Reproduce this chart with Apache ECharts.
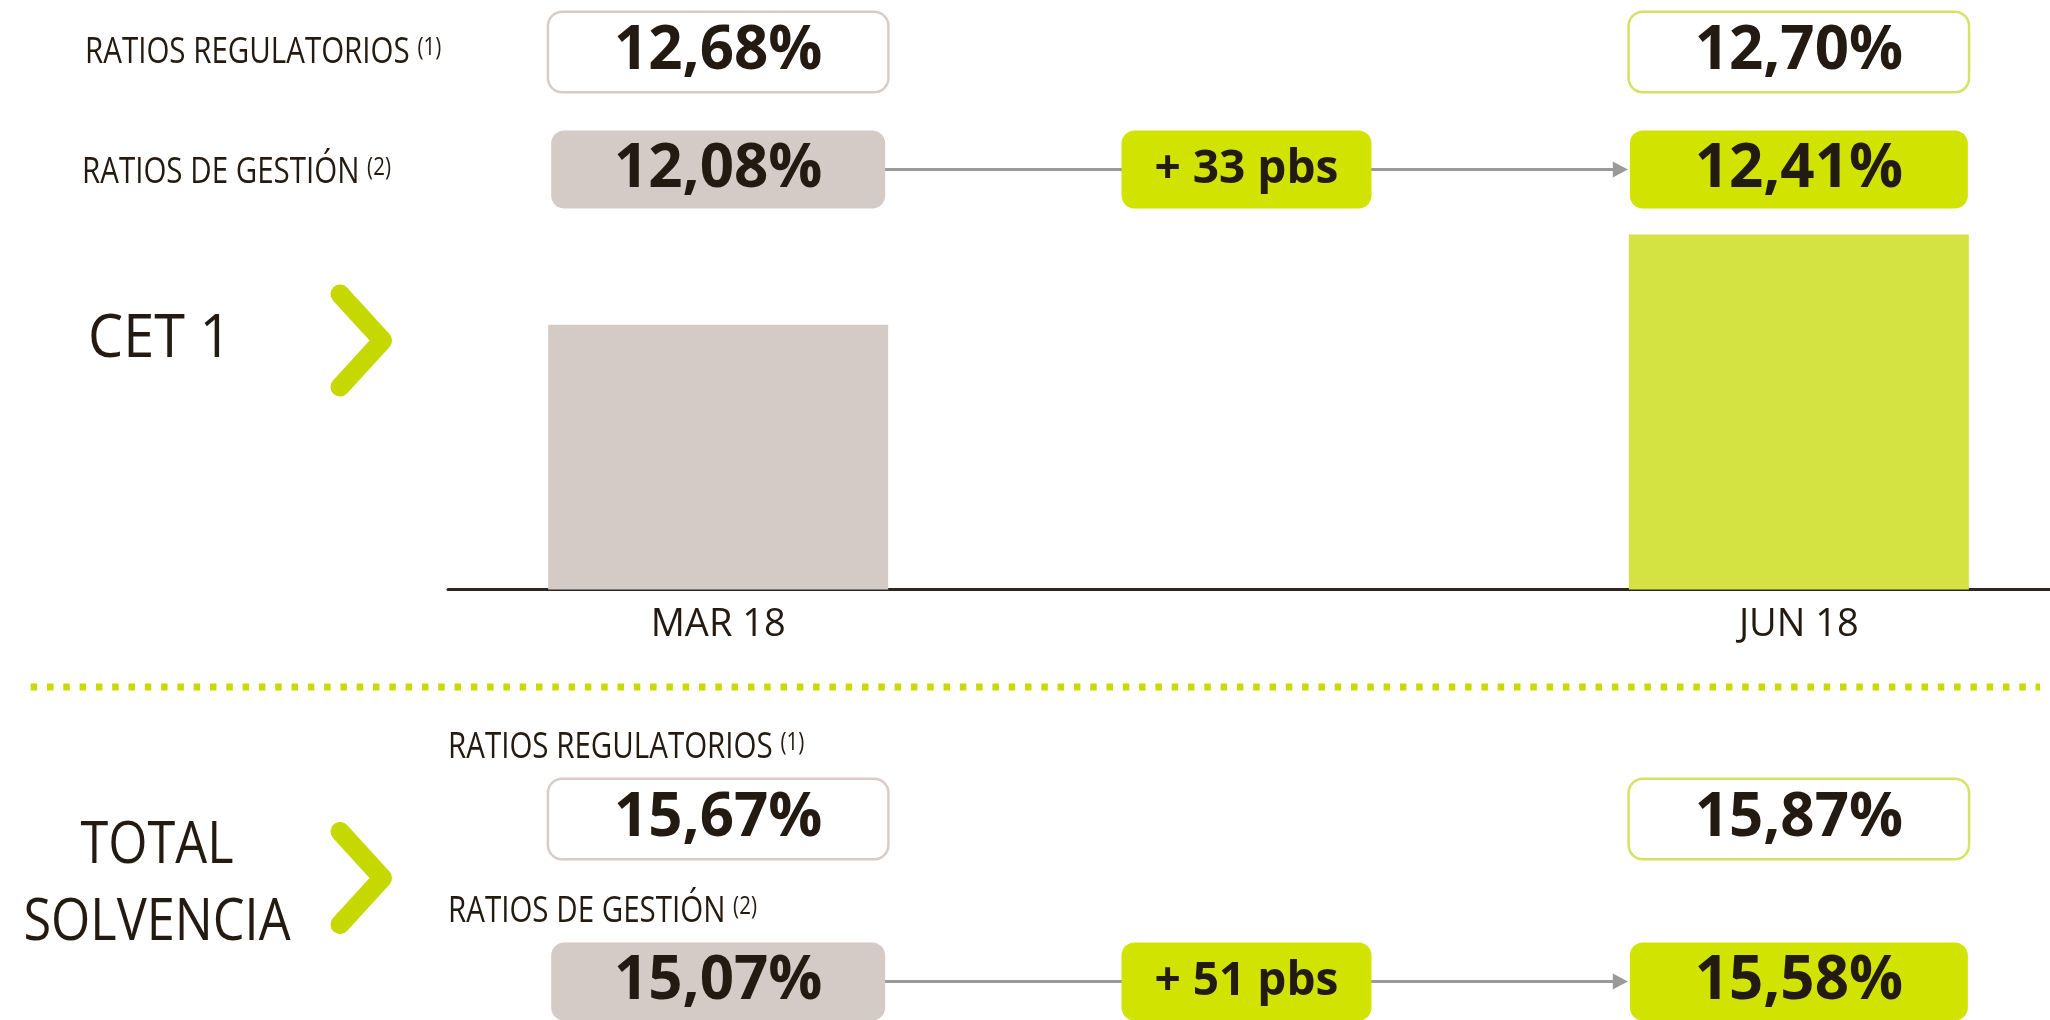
<!DOCTYPE html>
<html>
<head>
<meta charset="utf-8">
<script src="https://cdn.jsdelivr.net/npm/echarts@6/dist/echarts.min.js"></script>
<style>
  html, body { margin: 0; padding: 0; background: #ffffff; }
  #chart { width: 2050px; height: 1020px; }
</style>
</head>
<body>
<div id="chart"></div>
<script>
// Capital ratios by quarter (%)
const periods = ['MAR 18', 'JUN 18'];
const cet1Regulatory = [12.68, 12.70];
const cet1Management = [12.08, 12.41];
const solvencyRegulatory = [15.67, 15.87];
const solvencyManagement = [15.07, 15.58];

const rowLabels = ['RATIOS REGULATORIOS', 'RATIOS DE GESTIÓN'];
const rowNotes = ['(1)', '(2)'];
const sectionTitles = ['CET 1', 'TOTAL\nSOLVENCIA'];

// Category slots: first quarter, change box, second quarter
const slots = [periods[0], '', periods[1]];

const INK = '#231a11';
const LIME = '#d1e300';
const LIME_SOFT = '#d4e342';
const LIME_DARK = '#c5d800';
const TAUPE = '#d5cbc6';
const TAUPE_LINE = '#d7cdc8';
const ARROW = '#9a9a9a';
const FONT = "'Open Sans', 'Noto Sans', sans-serif";

const PLOT_LEFT = 448;
const PLOT_WIDTH = 1621;
const BOX_W = 338;
const BOX_H = 78;
const TEXT_DROP = 6;

const pct = v => v.toFixed(2).replace('.', ',') + '%';
const bps = (a, b) => '+ ' + Math.round((b - a) * 100) + ' pbs';

const chart = echarts.init(document.getElementById('chart'), null, { renderer: 'canvas' });

// grid 0: CET1 bars; grids 1-4: rows of value boxes
const rowGrids = [
  { top: 13, height: BOX_H },     // CET1 regulatory
  { top: 130.5, height: BOX_H },  // CET1 management
  { top: 780, height: BOX_H },    // solvency regulatory
  { top: 942.5, height: BOX_H }   // solvency management
];

const grids = [{ top: 180, height: 409.5 }].concat(rowGrids).map(g => ({
  left: PLOT_LEFT,
  width: PLOT_WIDTH,
  top: g.top,
  height: g.height,
  outerBoundsMode: 'none',
  containLabel: false
}));

const xAxes = grids.map((g, i) => ({
  type: 'category',
  gridIndex: i,
  data: slots,
  show: i === 0,
  boundaryGap: true,
  axisLine: { show: true, lineStyle: { color: '#2e2620', width: 3 } },
  axisTick: { show: false },
  axisLabel: {
    show: i === 0,
    color: INK,
    fontFamily: FONT,
    fontSize: 38,
    fontWeight: 400,
    margin: 17
  },
  splitLine: { show: false }
}));

const yAxes = grids.map((g, i) => i === 0
  ? { type: 'value', gridIndex: 0, min: 11.11, max: 12.61, show: false, splitLine: { show: false } }
  : { type: 'value', gridIndex: i, min: 0, max: 1, show: false, splitLine: { show: false } });

function boxLabel(fill, border, width, fontSize) {
  return {
    show: true,
    position: 'inside',
    width: width,
    height: BOX_H - TEXT_DROP,
    lineHeight: BOX_H - TEXT_DROP,
    padding: [TEXT_DROP, 0, 0, 0],
    align: 'center',
    verticalAlign: 'middle',
    backgroundColor: fill,
    borderColor: border || 'transparent',
    borderWidth: border ? 2.5 : 0,
    borderRadius: 13,
    color: INK,
    fontFamily: FONT,
    fontWeight: 700,
    fontSize: fontSize
  };
}

const hiddenPoint = { color: 'transparent', opacity: 1 };

// Regulatory row: outlined boxes at both quarters
function regulatoryRow(gridIndex, values) {
  return {
    type: 'scatter',
    xAxisIndex: gridIndex,
    yAxisIndex: gridIndex,
    symbol: 'circle',
    symbolSize: 1,
    itemStyle: hiddenPoint,
    silent: true,
    z: 5,
    label: { formatter: p => pct(values[p.dataIndex]) },
    data: [
      { value: [0, 0.5], label: boxLabel('#ffffff', TAUPE_LINE, BOX_W, 60) },
      { value: [2, 0.5], label: boxLabel('#ffffff', '#d6e265', BOX_W, 60) }
    ]
  };
}

// Management row: filled boxes plus the change between quarters
function managementRow(gridIndex, values) {
  const texts = [pct(values[0]), bps(values[0], values[1]), pct(values[1])];
  const delta = boxLabel(LIME, null, 250, 46);
  delta.offset = [-12, 0];
  return {
    type: 'scatter',
    xAxisIndex: gridIndex,
    yAxisIndex: gridIndex,
    symbol: 'circle',
    symbolSize: 1,
    itemStyle: hiddenPoint,
    silent: true,
    z: 5,
    label: { formatter: p => texts[p.dataIndex] },
    data: [
      { value: [0, 0.5], label: boxLabel(TAUPE, null, BOX_W - 4, 60) },
      { value: [1, 0.5], label: delta },
      { value: [2, 0.5], label: boxLabel(LIME, null, BOX_W, 60) }
    ]
  };
}

const barColors = [TAUPE, LIME_SOFT];

const series = [
  {
    type: 'bar',
    xAxisIndex: 0,
    yAxisIndex: 0,
    barWidth: 340,
    silent: true,
    data: [
      { value: cet1Management[0], itemStyle: { color: barColors[0] } },
      '-',
      { value: cet1Management[1], itemStyle: { color: barColors[1] } }
    ]
  },
  regulatoryRow(1, cet1Regulatory),
  managementRow(2, cet1Management),
  regulatoryRow(3, solvencyRegulatory),
  managementRow(4, solvencyManagement)
];

function rowLabel(id, x, y, idx) {
  return {
    type: 'text',
    id: id,
    x: x,
    y: y,
    scaleX: 0.82,
    silent: true,
    style: {
      text: '{m|' + rowLabels[idx] + ' }{s|' + rowNotes[idx] + '}',
      verticalAlign: 'middle',
      align: 'left',
      fill: INK,
      rich: {
        m: { fontFamily: FONT, fontSize: 36, fontWeight: 400, fill: INK, verticalAlign: 'middle' },
        s: { fontFamily: FONT, fontSize: 25, fontWeight: 400, fill: INK, verticalAlign: 'top' }
      }
    }
  };
}

function chevron(id, cx, cy) {
  return {
    type: 'polyline',
    id: id,
    silent: true,
    shape: { points: [[cx, cy - 46.5], [cx + 42.5, cy], [cx, cy + 46.5]] },
    style: { stroke: LIME_DARK, lineWidth: 19, lineCap: 'round', lineJoin: 'round', fill: null }
  };
}

const staticGraphics = [
  rowLabel('lab-cet-reg', 85, 53, 0),
  rowLabel('lab-cet-man', 82, 173, 1),
  rowLabel('lab-sol-reg', 448, 748, 0),
  rowLabel('lab-sol-man', 448, 912, 1),
  {
    type: 'text', id: 'title-cet', x: 88, y: 340, scaleX: 0.93, silent: true,
    style: { text: sectionTitles[0], fill: INK, fontFamily: FONT, fontSize: 60, fontWeight: 400, align: 'left', verticalAlign: 'middle' }
  },
  {
    type: 'text', id: 'title-sol', x: 157, y: 885, scaleX: 0.87, silent: true,
    style: { text: sectionTitles[1], fill: INK, fontFamily: FONT, fontSize: 58, fontWeight: 400, lineHeight: 77, align: 'center', verticalAlign: 'middle' }
  },
  chevron('chev-cet', 340, 340.5),
  chevron('chev-sol', 340, 878),
  {
    type: 'line', id: 'separator', silent: true,
    shape: { x1: 30.7, y1: 687, x2: 2040, y2: 687 },
    style: { stroke: '#c9da00', lineWidth: 7, lineDash: [6.5, 9.8] }
  }
];

chart.setOption({
  animation: false,
  backgroundColor: '#ffffff',
  grid: grids,
  xAxis: xAxes,
  yAxis: yAxes,
  series: series,
  graphic: { elements: staticGraphics }
});

// Arrows from the first-quarter box to the second-quarter box of each management row
function arrow(prefix, gridIndex) {
  const a = chart.convertToPixel({ gridIndex: gridIndex }, [0, 0.5]);
  const b = chart.convertToPixel({ gridIndex: gridIndex }, [2, 0.5]);
  const tipX = b[0] - BOX_W / 2 - 2;
  const y = a[1];
  return [
    {
      type: 'line', id: prefix + '-shaft', silent: true, z: 1,
      shape: { x1: a[0], y1: y, x2: tipX - 12, y2: y },
      style: { stroke: ARROW, lineWidth: 3 }
    },
    {
      type: 'polygon', id: prefix + '-head', silent: true, z: 1,
      shape: { points: [[tipX - 15, y - 8], [tipX, y], [tipX - 15, y + 8]] },
      style: { fill: ARROW }
    }
  ];
}

chart.setOption({
  graphic: { elements: staticGraphics.concat(arrow('arrow-cet', 2), arrow('arrow-sol', 4)) }
});
</script>
</body>
</html>
